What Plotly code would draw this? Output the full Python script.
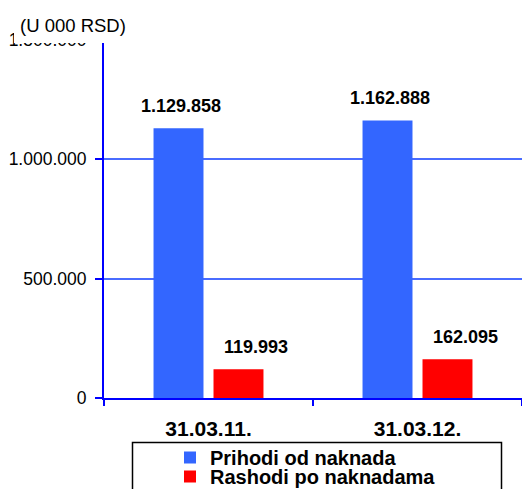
import plotly.graph_objects as go

categories = ["31.03.11.", "31.03.12."]
series_names = ["Prihodi od naknada", "Rashodi po naknadama"]
prihodi = [1129858, 1162888]
rashodi = [119993, 162095]
y_ticks = [0, 500000, 1000000, 1500000]
y_tick_labels = ["0", "500.000", "1.000.000", "1.500.000"]
unit_label = "(U 000 RSD)"


def fmt(v):
    return f"{v:,}".replace(",", ".")


W, H = 522, 489
ML, MR, MT, MB = 104, 0, 40, 91
PW, PH = W - ML - MR, H - MT - MB


def px(x):
    return (x - ML) / PW


def py(y):
    return (H - MB - y) / PH


FONT = "Liberation Sans, Arial, sans-serif"
BLUE = "#3366FF"
RED = "#FF0000"
AXIS = "#0000FF"
GRID = "#4A6CFF"
bargap = 0.426
bargroupgap = 0.167

fig = go.Figure()
fig.add_trace(go.Bar(x=categories, y=prihodi, name=series_names[0], showlegend=True,
                     marker=dict(color=BLUE, line=dict(width=0)), legend="legend"))
fig.add_trace(go.Bar(x=categories, y=rashodi, name=series_names[1], showlegend=True,
                     marker=dict(color=RED, line=dict(width=0)), legend="legend2"))

slot = (1 - bargap) / 2
annotations = []
for i, v in enumerate(prihodi):
    annotations.append(dict(x=i - slot / 2, y=v, xref="x", yref="y", text=f"<b>{fmt(v)}</b>",
                            showarrow=False, yanchor="bottom", xanchor="center", xshift=2, yshift=10,
                            font=dict(family=FONT, size=18, color="black")))
for i, v in enumerate(rashodi):
    annotations.append(dict(x=i + slot / 2, y=v, xref="x", yref="y", text=f"<b>{fmt(v)}</b>",
                            showarrow=False, yanchor="bottom", xanchor="center", xshift=18, yshift=10,
                            font=dict(family=FONT, size=18, color="black")))
annotations.append(dict(x=px(18), y=py(25), xref="paper", yref="paper", text=unit_label,
                        showarrow=False, xanchor="left", yanchor="middle",
                        font=dict(family=FONT, size=18.5, color="black")))

shapes = [
    dict(type="rect", xref="paper", yref="paper", x0=px(14), x1=px(195), y0=py(43), y1=py(-2),
         fillcolor="white", line=dict(width=0), layer="above"),
    dict(type="rect", xref="paper", yref="paper", x0=px(132.5), x1=px(501.5), y0=py(530), y1=py(442.5),
         fillcolor="rgba(0,0,0,0)", line=dict(color="black", width=1.5), layer="above"),
]

legend_font = dict(family=FONT, size=20, color="black", weight="bold")
fig.update_layout(
    width=W, height=H,
    margin=dict(l=ML, r=MR, t=MT, b=MB, autoexpand=False),
    paper_bgcolor="white", plot_bgcolor="white",
    barmode="group", bargap=bargap, bargroupgap=bargroupgap,
    font=dict(family=FONT, color="black"),
    annotations=annotations,
    shapes=shapes,
    showlegend=True,
    legend=dict(visible=True, x=px(170), y=py(438), xanchor="left", yanchor="top",
                bgcolor="rgba(0,0,0,0)", borderwidth=0, font=legend_font, itemclick=False),
    legend2=dict(visible=True, x=px(170), y=py(457), xanchor="left", yanchor="top",
                 bgcolor="rgba(0,0,0,0)", borderwidth=0, font=legend_font, itemclick=False),
    xaxis=dict(
        type="category", range=[-0.5, 1.5], showgrid=False, zeroline=False,
        showline=True, linecolor=AXIS, linewidth=2,
        ticks="outside", tickson="boundaries", ticklen=6, tickwidth=2, tickcolor=AXIS,
        tickfont=dict(family=FONT, size=21, color="black", weight="bold"),
        ticklabelstandoff=11,
    ),
    yaxis=dict(
        range=[0, 1500000], tickvals=y_ticks, ticktext=y_tick_labels,
        showgrid=True, gridcolor=GRID, gridwidth=1.5, zeroline=False,
        showline=True, linecolor=AXIS, linewidth=2,
        ticks="outside", ticklen=7, tickwidth=2, tickcolor=AXIS,
        tickfont=dict(family=FONT, size=17.5, color="black"),
        ticklabelstandoff=5,
    ),
)

fig.write_html("out.html")
